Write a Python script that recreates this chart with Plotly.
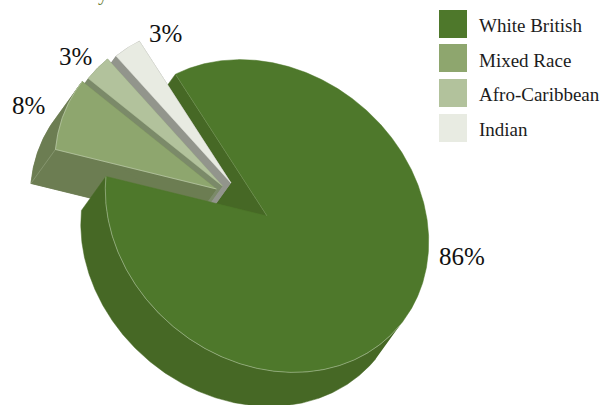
import numpy as np
import plotly.graph_objects as go

# Population shares by group
categories = ["White British", "Mixed Race", "Afro-Caribbean", "Indian"]
shares = [86, 8, 3, 3]

top_colors = ["#4e782b", "#8ea66e", "#b2c29c", "#e8ebe2"]
wall_colors = ["#466825", "#6c7d52", "#7b8a69", "#92958c"]
edge_colors = ["#c4d2b8", "#d5dec8", "#d5dec8", "#f4f6f0"]

# Pie plane as seen by the camera, in page pixels
CENTER = np.array([267.0, 216.0])
AXIS_MAJOR = 172.0
AXIS_MINOR = 145.0
TILT = np.radians(39.3)
E1 = np.array([np.cos(TILT), np.sin(TILT)])
E2 = np.array([-np.sin(TILT), np.cos(TILT)])
DEPTH = np.array([-24.5, 34.0])
START_ANGLE = 200.9
PULL = [(0.0, 0.0), (-50.5, -27.0), (-44.5, -30.0), (-36.0, -33.0)]

LABEL_ANCHORS = [(462, 256), (28, 105), (75, 56), (165, 33)]
LEGEND_X = 453
LEGEND_TEXT_X = 477
LEGEND_Y = [24, 58, 93, 128]
LEGEND_TEXT_Y = [25, 60, 94, 129]


def rim(apex, t0, t1):
    t = np.radians(np.linspace(t0, t1, max(int(abs(t1 - t0)) * 2, 8)))
    return apex + np.outer(AXIS_MAJOR * np.cos(t), E1) + np.outer(AXIS_MINOR * np.sin(t), E2)


def polygon(fig, pts, color):
    fig.add_trace(go.Scatter(
        x=pts[:, 0], y=pts[:, 1], mode="lines", fill="toself", fillcolor=color,
        line=dict(color=color, width=0.5), hoverinfo="skip", showlegend=False))


def stroke(fig, pts, color, width=0.7):
    fig.add_trace(go.Scatter(
        x=pts[:, 0], y=pts[:, 1], mode="lines",
        line=dict(color=color, width=width), hoverinfo="skip", showlegend=False))


def wedge_walls(fig, apex, t0, t1, color):
    arc = rim(apex, t0, t1)
    low = apex + DEPTH
    polygon(fig, np.vstack([low, arc + DEPTH, low]), color)
    polygon(fig, np.vstack([arc, (arc + DEPTH)[::-1]]), color)
    for edge in (arc[0], arc[-1]):
        polygon(fig, np.vstack([apex, edge, edge + DEPTH, low]), color)


def wedge_top(fig, apex, t0, t1, color):
    polygon(fig, np.vstack([apex, rim(apex, t0, t1), apex]), color)


spans = []
cursor = START_ANGLE
for share in shares:
    spans.append((cursor, cursor + share * 3.6))
    cursor += share * 3.6

fig = go.Figure()

# The radial wall of the main slice sits behind the pulled-out slices
main_start = rim(CENTER, spans[0][0], spans[0][0] + 1)[0]
polygon(fig, np.vstack([CENTER, main_start, main_start + DEPTH, CENTER + DEPTH]), wall_colors[0])

# Pulled-out slices, furthest first
for i in (3, 2, 1):
    apex = CENTER + np.array(PULL[i])
    t0, t1 = spans[i]
    wedge_walls(fig, apex, t0, t1, wall_colors[i])
    wedge_top(fig, apex, t0, t1, top_colors[i])
    if i == 1:
        corner = rim(apex, t0, t0 + 1)[0]
        stroke(fig, np.vstack([corner, corner + DEPTH]), "#9fae8a", 0.5)
        stroke(fig, rim(apex, t0, t1), edge_colors[i], 0.5)
        stroke(fig, np.vstack([corner, apex]), edge_colors[i], 0.5)

# Main slice: only the front of its rim faces the viewer
t0, t1 = spans[0]
front = rim(CENTER, 360, t1)
polygon(fig, np.vstack([front, (front + DEPTH)[::-1]]), wall_colors[0])
wedge_top(fig, CENTER, t0, t1, top_colors[0])
stroke(fig, np.vstack([main_start, CENTER]), "#86a06c", 0.4)
stroke(fig, front, edge_colors[0], 0.5)

# Key
fig.add_trace(go.Scatter(
    x=[LEGEND_X] * 4, y=LEGEND_Y, mode="markers",
    marker=dict(symbol="square", size=28, color=top_colors, line=dict(width=0)),
    hoverinfo="skip", showlegend=False))

annotations = []
for name, y in zip(categories, LEGEND_TEXT_Y):
    annotations.append(dict(x=LEGEND_TEXT_X, y=y, text=name, xanchor="left", yanchor="middle",
                            showarrow=False, font=dict(size=19, color="#1c1c1c")))
for share, (x, y) in zip(shares, LABEL_ANCHORS):
    annotations.append(dict(x=x, y=y, text=f"{share}%", xanchor="center", yanchor="middle",
                            showarrow=False, font=dict(size=25, color="#111111")))
# Tail of the heading, which runs off the top of the page
annotations.append(dict(x=103, y=7, text="y", xanchor="center", yanchor="bottom",
                        showarrow=False, font=dict(size=20, color="#6f7f3c")))

fig.update_layout(
    width=603, height=405, margin=dict(l=0, r=0, t=0, b=0),
    paper_bgcolor="white", plot_bgcolor="white",
    font=dict(family="Liberation Serif"),
    xaxis=dict(range=[0, 603], visible=False, fixedrange=True),
    yaxis=dict(range=[405, 0], visible=False, fixedrange=True),
    annotations=annotations, showlegend=False)

fig.write_html("out.html", config={"displayModeBar": False})
